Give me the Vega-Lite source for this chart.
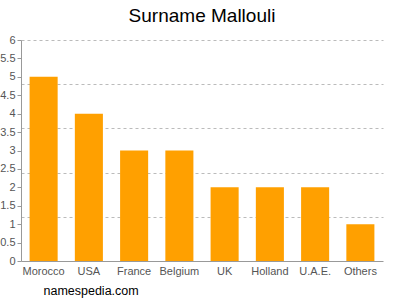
{
  "$schema": "https://vega.github.io/schema/vega-lite/v6.json",
  "width": 362,
  "height": 221,
  "autosize": "none",
  "padding": {"left": 21, "top": 40, "right": 17, "bottom": 39},
  "title": {"text": "Surname Mallouli", "fontSize": 19, "font": "Liberation Sans", "fontWeight": "normal", "color": "#000", "anchor": "middle", "offset": 8},
  "data": {"values": [
    {"country": "Morocco", "count": 5},
    {"country": "USA", "count": 4},
    {"country": "France", "count": 3},
    {"country": "Belgium", "count": 3},
    {"country": "UK", "count": 2},
    {"country": "Holland", "count": 2},
    {"country": "U.A.E.", "count": 2},
    {"country": "Others", "count": 1}
  ]},
  "config": {
    "view": {"stroke": null},
    "font": "Liberation Sans",
    "axis": {"labelFont": "Liberation Sans", "labelColor": "#555", "labelFontSize": 11, "domainColor": "#999", "tickColor": "#999"}
  },
  "layer": [
    {
      "mark": {"type": "bar", "color": "#ffa000"},
      "encoding": {
        "x": {"field": "country", "type": "nominal", "sort": null,
          "scale": {"paddingInner": 0.38, "paddingOuter": 0.19},
          "axis": {"labelAngle": 0, "ticks": false, "labelPadding": 4, "title": "namespedia.com", "titleFont": "Liberation Sans", "titleFontSize": 12.5, "titleFontWeight": "normal", "titleColor": "#000", "titleAnchor": "start", "titleAlign": "left", "titleX": 22, "titleY": 33, "titleBaseline": "alphabetic"}},
        "y": {"field": "count", "type": "quantitative",
          "scale": {"domain": [0, 6], "nice": false},
          "axis": {"values": [0, 0.5, 1, 1.5, 2, 2.5, 3, 3.5, 4, 4.5, 5, 5.5, 6], "grid": false, "title": null, "tickSize": 4, "labelPadding": 2, "format": "~g", "orient": "left"}}
      }
    },
    {
      "mark": {"type": "bar", "opacity": 0},
      "encoding": {
        "x": {"field": "country", "type": "nominal", "sort": null},
        "y": {"field": "count", "type": "quantitative",
          "axis": {"values": [1.2, 2.4, 3.6, 4.8, 6], "grid": true, "gridDash": [3, 3], "gridColor": "#bbb", "labels": false, "ticks": false, "domain": false, "title": null, "orient": "left", "zindex": 0}}
      }
    }
  ],
  "resolve": {"scale": {"y": "shared", "x": "shared"}, "axis": {"y": "independent"}}
}
